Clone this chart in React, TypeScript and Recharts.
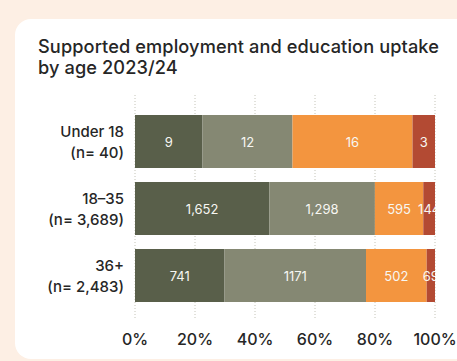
import React from "react";
import { BarChart, Bar, XAxis, YAxis, CartesianGrid, LabelList } from "recharts";

const categories = ["Under 18", "18–35", "36+"];
const sampleSizes = ["(n= 40)", "(n= 3,689)", "(n= 2,483)"];
const employedValues = [9, 1652, 741];
const educationValues = [12, 1298, 1171];
const trainingValues = [16, 595, 502];
const otherValues = [3, 144, 69];
const employedLabels = ["9", "1,652", "741"];
const educationLabels = ["12", "1,298", "1171"];
const trainingLabels = ["16", "595", "502"];
const otherLabels = ["3", "144", "69"];
const xTicks = [0, 0.2, 0.4, 0.6, 0.8, 1];
const xTickLabels = ["0%", "20%", "40%", "60%", "80%", "100%"];

const data = categories.map((c, i) => ({
  name: c,
  n: sampleSizes[i],
  a: employedValues[i],
  b: educationValues[i],
  c: trainingValues[i],
  d: otherValues[i],
}));

const FONT = "Inter, 'DejaVu Sans', sans-serif";

const makeLabel = (labels: string[], clip: boolean, key: string) => (props: any) => {
  const { x, y, width, height, index } = props;
  const cx = x + width / 2;
  const cy = y + height / 2;
  const id = `clip-${key}-${index}`;
  return (
    <g>
      {clip && (
        <defs>
          <clipPath id={id}>
            <rect x={x - 60} y={y} width={width + 60} height={height} />
          </clipPath>
        </defs>
      )}
      <text
        x={cx}
        y={cy}
        textAnchor="middle"
        dominantBaseline="central"
        fill="#f7f7f2"
        fontSize={13}
        fontFamily={FONT}
        clipPath={clip ? `url(#${id})` : undefined}
      >
        {labels[index]}
      </text>
    </g>
  );
};

const YTick = (props: any) => {
  const { x, y, index } = props;
  const tx = x - 3;
  return (
    <g>
      <text x={tx} y={y} textAnchor="end" fontSize={15} fontFamily={FONT} fill="#262626" fontWeight={500}>
        <tspan x={tx} dy={-5}>{categories[index]}</tspan>
        <tspan x={tx} dy={21}>{sampleSizes[index]}</tspan>
      </text>
    </g>
  );
};

export default function App() {
  return (
    <div style={{ position: "absolute", left: 0, top: 0, width: 457, height: 361, background: "#fdefe4", overflow: "hidden" }}>
      <div style={{ position: "absolute", left: 15, top: 19, width: 480, height: 340, background: "#ffffff", borderRadius: 16 }} />
      <div
        style={{
          position: "absolute",
          left: 38,
          top: 36,
          fontFamily: FONT,
          fontSize: 18.2,
          letterSpacing: 0.1,
          lineHeight: "21px",
          fontWeight: 500,
          color: "#262626",
          whiteSpace: "nowrap",
        }}
      >
        Supported employment and education uptake
        <br />
        by age 2023/24
      </div>
      <div style={{ position: "absolute", left: 0, top: 0 }}>
        <BarChart
          width={457}
          height={361}
          data={data}
          layout="vertical"
          stackOffset="expand"
          margin={{ top: 95, right: 22, bottom: 11, left: 0 }}
          barSize={53}
        >
          <CartesianGrid horizontal={false} vertical stroke="#c4c4b8" strokeDasharray="1 2" />
          <XAxis
            type="number"
            domain={[0, 1]}
            ticks={xTicks}
            tickFormatter={(v: number, i: number) => xTickLabels[i]}
            axisLine={false}
            tickLine={false}
            height={30}
            tickMargin={8}
            tick={{ fontSize: 16, fill: "#262626", fontFamily: FONT, fontWeight: 500 }}
            interval={0}
          />
          <YAxis
            type="category"
            dataKey="name"
            width={135}
            axisLine={false}
            tickLine={false}
            padding={{ top: 13, bottom: 11 }}
            tick={<YTick />}
            interval={0}
          />
          <Bar dataKey="a" stackId="s" fill="#595f4a" isAnimationActive={false}>
            <LabelList dataKey="a" content={makeLabel(employedLabels, false, "a")} />
          </Bar>
          <Bar dataKey="b" stackId="s" fill="#858873" isAnimationActive={false}>
            <LabelList dataKey="b" content={makeLabel(educationLabels, false, "b")} />
          </Bar>
          <Bar dataKey="c" stackId="s" fill="#f3953f" isAnimationActive={false}>
            <LabelList dataKey="c" content={makeLabel(trainingLabels, false, "c")} />
          </Bar>
          <Bar dataKey="d" stackId="s" fill="#b34a33" isAnimationActive={false}>
            <LabelList dataKey="d" content={makeLabel(otherLabels, true, "d")} />
          </Bar>
        </BarChart>
      </div>
    </div>
  );
}
